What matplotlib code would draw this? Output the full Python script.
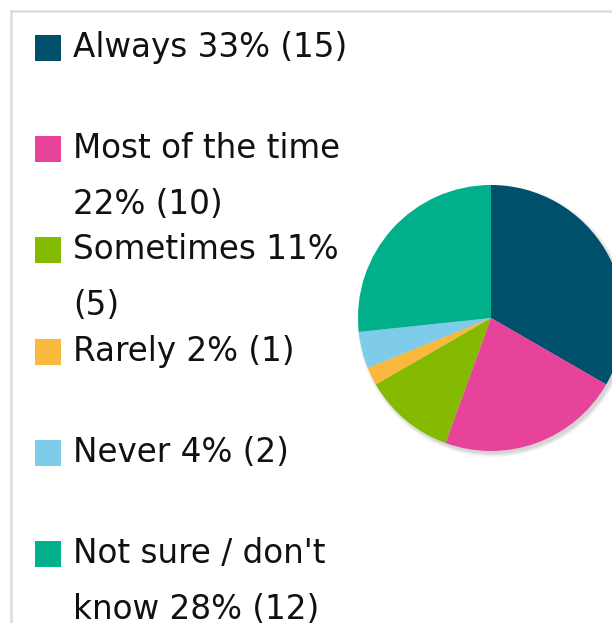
import matplotlib
matplotlib.use("Agg")
import matplotlib.pyplot as plt
from matplotlib.patches import Rectangle, Circle
from matplotlib.lines import Line2D

categories = ["Always", "Most of the time", "Sometimes", "Rarely", "Never",
              "Not sure / don't know"]
counts = [15, 10, 5, 1, 2, 12]
percents = [33, 22, 11, 2, 4, 28]
colors = ["#004f6b", "#e8439b", "#84bb00", "#f9b93e", "#7ecbea", "#00b08a"]
# legend labels wrapped onto lines the way the legend shows them
legend_lines = [
    ["Always 33% (15)"],
    ["Most of the time", "22% (10)"],
    ["Sometimes 11%", "(5)"],
    ["Rarely 2% (1)"],
    ["Never 4% (2)"],
    ["Not sure / don't", "know 28% (12)"],
]

W, H = 612, 623
fig = plt.figure(figsize=(W / 100, H / 100), dpi=100)
fig.patch.set_facecolor("white")

def px(x, y):
    return x / W, 1 - y / H

# light frame along the top and left edges
fig.add_artist(Line2D([11 / W, 1], [1 - 11 / H] * 2, color="#dcdcdc", lw=1.8,
                      transform=fig.transFigure))
fig.add_artist(Line2D([11 / W] * 2, [0, 1 - 11 / H], color="#dcdcdc", lw=1.8,
                      transform=fig.transFigure))

# pie
cx, cy, r = 491, 318, 133
ax = fig.add_axes([(cx - r) / W, 1 - (cy + r) / H, 2 * r / W, 2 * r / H])
ax.axis("off")
for i, a in enumerate([0.05, 0.05, 0.04, 0.03]):
    ax.add_patch(Circle((0.018, -0.022), 1.0 + 0.008 * i, color="black",
                        alpha=a, lw=0, clip_on=False))
wedges, _ = ax.pie(counts, colors=colors, startangle=90, counterclock=False,
                   radius=1.0, wedgeprops=dict(linewidth=0))
for w in wedges:
    w.set_clip_on(False)
ax.set_xlim(-1, 1)
ax.set_ylim(-1, 1)
ax.set_aspect("equal")

# legend
font = dict(family="DejaVu Sans", fontsize=23.5, color="#111111")
top0, step, line_gap = 35, 101.2, 56
for i, lines in enumerate(legend_lines):
    top = top0 + i * step
    x0, y0 = px(35, top + 26)
    fig.add_artist(Rectangle((x0, y0), 26 / W, 26 / H, color=colors[i],
                             transform=fig.transFigure, lw=0))
    for j, line in enumerate(lines):
        tx, ty = px(73, top + 22 + j * line_gap)
        fig.text(tx, ty, line, ha="left", va="baseline", **font)

fig.savefig("out.png", dpi=100)
